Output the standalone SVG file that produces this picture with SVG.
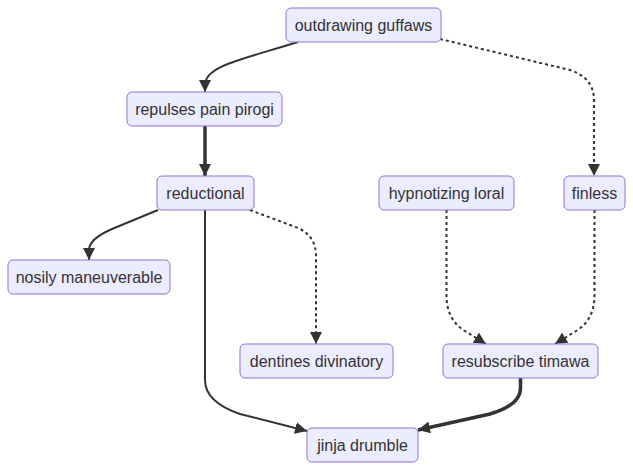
<svg xmlns="http://www.w3.org/2000/svg" width="633" height="470" viewBox="0 0 633 470">
<defs>
<style>
.node rect{fill:#ECECFF;stroke:#9370DB;stroke-width:1}
.node text{font-family:"Liberation Sans",Arial,sans-serif;font-size:16px;fill:#333;text-anchor:middle;dominant-baseline:central}
.e{fill:none;stroke:#333;stroke-width:2}
.dot{stroke-dasharray:3 3}
.thick{stroke-width:3.5}
</style>
<marker id="ah" viewBox="0 0 10 10" refX="10" refY="5" markerUnits="userSpaceOnUse" markerWidth="12" markerHeight="12" orient="auto">
<path d="M0,0 L10,5 L0,10 z" fill="#333"/>
</marker>
</defs>
<g id="edges">
<path class="e" d="M298,42 C240,60 205,66 205,85 L205,92" marker-end="url(#ah)"/>
<path class="e thick" d="M205,126 L205,176" marker-end="url(#ah)"/>
<path class="e dot" d="M440,39 L570,70 Q594,78 594,100 L594,176" marker-end="url(#ah)"/>
<path class="e" d="M158,210 L112,229 Q89,239 89,250 L89,260" marker-end="url(#ah)"/>
<path class="e dot" d="M250,210 L298,228 Q316,236 316,256 L316,344" marker-end="url(#ah)"/>
<path class="e" d="M205,210 L205,380 Q205,402 240,414 L307,431" marker-end="url(#ah)"/>
<path class="e dot" d="M446.5,210 L446.5,295 Q446.5,320 465,331 L486,344" marker-end="url(#ah)"/>
<path class="e dot" d="M594.5,210 L594.5,295 Q594.5,320 576,331 L555,344" marker-end="url(#ah)"/>
<path class="e thick" d="M520.5,378 L520.5,388 Q520.5,405 490,414 L418,430" marker-end="url(#ah)"/>
</g>
<g id="n-outdrawing" class="node"><rect x="286" y="8" width="155" height="34" rx="5"/><text x="363.5" y="25">outdrawing guffaws</text></g>
<g id="n-repulses" class="node"><rect x="127" y="92" width="155" height="34" rx="5"/><text x="204.5" y="109">repulses pain pirogi</text></g>
<g id="n-reductional" class="node"><rect x="157" y="176" width="97" height="34" rx="5"/><text x="205.5" y="193">reductional</text></g>
<g id="n-hypnotizing" class="node"><rect x="379" y="176" width="135" height="34" rx="5"/><text x="446.5" y="193">hypnotizing loral</text></g>
<g id="n-finless" class="node"><rect x="564" y="176" width="61" height="34" rx="5"/><text x="594.5" y="193">finless</text></g>
<g id="n-nosily" class="node"><rect x="8" y="260" width="162" height="34" rx="5"/><text x="89" y="277">nosily maneuverable</text></g>
<g id="n-dentines" class="node"><rect x="240" y="344" width="153" height="34" rx="5"/><text x="316.5" y="361">dentines divinatory</text></g>
<g id="n-resubscribe" class="node"><rect x="443" y="344" width="155" height="34" rx="5"/><text x="520.5" y="361">resubscribe timawa</text></g>
<g id="n-jinja" class="node"><rect x="307" y="428" width="111" height="34" rx="5"/><text x="362.5" y="445">jinja drumble</text></g>
</svg>
